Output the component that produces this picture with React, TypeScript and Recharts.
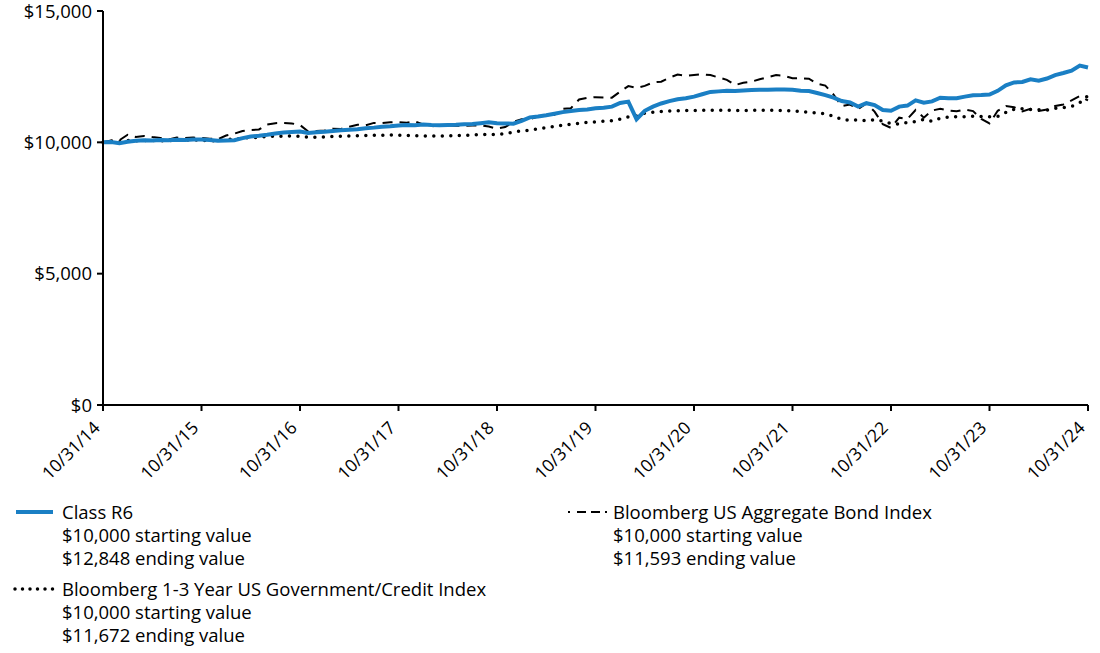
import { LineChart, Line, XAxis, YAxis } from 'recharts'

// month index 0 = 10/31/14 ... 120 = 10/31/24
const tickMonths = [0, 12, 24, 36, 48, 60, 72, 84, 96, 108, 120]
const tickLabels = [
  '10/31/14', '10/31/15', '10/31/16', '10/31/17', '10/31/18', '10/31/19',
  '10/31/20', '10/31/21', '10/31/22', '10/31/23', '10/31/24',
]
const yTicks = [0, 5000, 10000, 15000]

const classR6 = [
  10000, 10010, 9970, 10020, 10060, 10080, 10070, 10090, 10080, 10100, 10090, 10110, 10110,
  10090, 10060, 10070, 10080, 10160, 10220, 10250, 10290, 10340, 10370, 10390, 10410,
  10360, 10380, 10400, 10430, 10460, 10480, 10500, 10540, 10560, 10590, 10610, 10640,
  10660, 10650, 10680, 10660, 10650, 10660, 10670, 10690, 10700, 10730, 10760, 10730,
  10720, 10710, 10820, 10950, 10980, 11030, 11090, 11150, 11190, 11230, 11250, 11300,
  11320, 11360, 11500, 11550, 10880, 11200, 11360, 11480, 11570, 11640, 11680, 11740,
  11830, 11920, 11940, 11960, 11950, 11970, 11990, 12000, 12000, 12010, 12010, 12000,
  11960, 11950, 11880, 11800, 11700, 11570, 11520, 11360, 11490, 11420, 11230, 11200,
  11360, 11400, 11600, 11510, 11560, 11700, 11680, 11680, 11740, 11790, 11800, 11820,
  11960, 12170, 12280, 12300, 12400, 12350, 12430, 12560, 12640, 12730, 12920, 12848,
]

const aggregateBond = [
  10000, 10070, 10080, 10290, 10200, 10240, 10200, 10170, 10110, 10180, 10160, 10180, 10170,
  10140, 10120, 10260, 10330, 10430, 10470, 10490, 10680, 10730, 10740, 10720, 10660,
  10410, 10430, 10450, 10520, 10510, 10590, 10670, 10650, 10740, 10730, 10760, 10770,
  10750, 10800, 10680, 10600, 10660, 10640, 10630, 10630, 10640, 10650, 10600, 10520,
  10580, 10780, 10880, 10880, 10980, 11040, 11050, 11280, 11300, 11630, 11690, 11720,
  11710, 11700, 11930, 12140, 12070, 12150, 12280, 12310, 12460, 12580, 12530, 12560,
  12590, 12560, 12470, 12380, 12180, 12270, 12310, 12400, 12480, 12560, 12530, 12440,
  12440, 12420, 12230, 12160, 11820, 11380, 11440, 11270, 11480, 11170, 10690, 10550,
  10940, 10890, 11230, 10940, 11210, 11280, 11210, 11180, 11250, 11190, 10890, 10720,
  11200, 11380, 11340, 11180, 11280, 11190, 11250, 11380, 11440, 11600, 11760, 11593,
]

const govCredit13 = [
  10000, 10040, 10020, 10070, 10060, 10070, 10070, 10060, 10070, 10080, 10090, 10090, 10080,
  10060, 10050, 10110, 10120, 10160, 10180, 10190, 10230, 10230, 10230, 10240, 10230,
  10190, 10190, 10200, 10220, 10230, 10240, 10250, 10260, 10270, 10270, 10280, 10270,
  10260, 10250, 10240, 10240, 10240, 10250, 10260, 10270, 10280, 10300, 10300, 10300,
  10330, 10390, 10440, 10460, 10510, 10560, 10600, 10650, 10690, 10720, 10760, 10780,
  10800, 10820, 10880, 10970, 11000, 11110, 11150, 11170, 11190, 11200, 11210, 11210,
  11220, 11220, 11220, 11220, 11210, 11210, 11220, 11220, 11220, 11220, 11210, 11200,
  11170, 11140, 11120, 11080, 11000, 10870, 10840, 10850, 10830, 10860, 10810, 10710,
  10690, 10760, 10790, 10870, 10800, 10920, 10960, 10980, 10970, 10990, 10980, 10970,
  10990, 11140, 11260, 11280, 11250, 11240, 11230, 11300, 11320, 11370, 11510, 11780, 11672,
]

const data = classR6.map((v, i) => ({
  month: i,
  classR6: v,
  aggregate: aggregateBond[i],
  govCredit: govCredit13[i],
}))

const FONT = '"Open Sans", "Noto Sans", sans-serif'
const BLUE = '#1a7fc4'
const TEXT_SIZE = 18.5

const fmtDollar = (v: number) => '$' + v.toLocaleString('en-US')

function XTick(props: any) {
  const { x, y, payload } = props
  const idx = tickMonths.indexOf(payload.value)
  return (
    <g transform={`translate(${x - 2},${y + 16})`}>
      <text
        transform="rotate(-45)"
        textAnchor="end"
        fontSize={17.5}
        fontFamily={FONT}
        fill="#000"
      >
        {tickLabels[idx]}
      </text>
    </g>
  )
}

function LegendItem({ left, top, sample, lines }: any) {
  return (
    <div style={{ position: 'absolute', left, top, fontFamily: FONT, fontSize: TEXT_SIZE, lineHeight: '23px', color: '#000' }}>
      <svg width={48} height={23} style={{ position: 'absolute', left: -50, top: 0 }}>
        {sample}
      </svg>
      {lines.map((t: string) => (
        <div key={t} style={{ whiteSpace: 'nowrap' }}>{t}</div>
      ))}
    </div>
  )
}

export default function App() {
  return (
    <div style={{ position: 'relative', width: 1100, height: 653, background: '#fff' }}>
      <style>{'body{margin:0}'}</style>
      <div style={{ position: 'absolute', left: 0, top: -10 }}>
        <LineChart
          width={1100}
          height={510}
          data={data}
          margin={{ top: 21, right: 12, bottom: 20, left: 0 }}
          style={{ fontFamily: FONT }}
        >
          <XAxis
            dataKey="month"
            type="number"
            domain={[0, 120]}
            ticks={tickMonths}
            height={75}
            tick={<XTick />}
            tickSize={6}
            axisLine={{ stroke: '#000', strokeWidth: 2 }}
            tickLine={{ stroke: '#000', strokeWidth: 2 }}
            interval={0}
          />
          <YAxis
            domain={[0, 15000]}
            ticks={yTicks}
            width={103}
            tickFormatter={fmtDollar}
            tickSize={6}
            tickMargin={5}
            tick={{ fill: '#000', fontSize: TEXT_SIZE, fontFamily: FONT }}
            axisLine={{ stroke: '#000', strokeWidth: 2 }}
            tickLine={{ stroke: '#000', strokeWidth: 2 }}
            interval={0}
          />
          <Line
            dataKey="aggregate"
            stroke="#000"
            strokeWidth={2}
            strokeDasharray="10 7"
            dot={false}
            isAnimationActive={false}
          />
          <Line
            dataKey="govCredit"
            stroke="#000"
            strokeWidth={3.5}
            strokeDasharray="0 8.5"
            strokeLinecap="round"
            dot={false}
            isAnimationActive={false}
          />
          <Line
            dataKey="classR6"
            stroke={BLUE}
            strokeWidth={4}
            dot={false}
            isAnimationActive={false}
          />
        </LineChart>
      </div>

      <LegendItem
        left={62}
        top={500}
        sample={<line x1={4} x2={41} y1={12} y2={12} stroke={BLUE} strokeWidth={4} />}
        lines={['Class R6', '$10,000 starting value', '$12,848 ending value']}
      />
      <LegendItem
        left={613}
        top={500}
        sample={<line x1={5} x2={44} y1={12} y2={12} stroke="#000" strokeWidth={2} strokeDasharray="2 7 9 5 9 5" />}
        lines={['Bloomberg US Aggregate Bond Index', '$10,000 starting value', '$11,593 ending value']}
      />
      <LegendItem
        left={62}
        top={577}
        sample={<line x1={3} x2={42} y1={12} y2={12} stroke="#000" strokeWidth={3.5} strokeDasharray="0 7.5" strokeLinecap="round" />}
        lines={['Bloomberg 1-3 Year US Government/Credit Index', '$10,000 starting value', '$11,672 ending value']}
      />
    </div>
  )
}
